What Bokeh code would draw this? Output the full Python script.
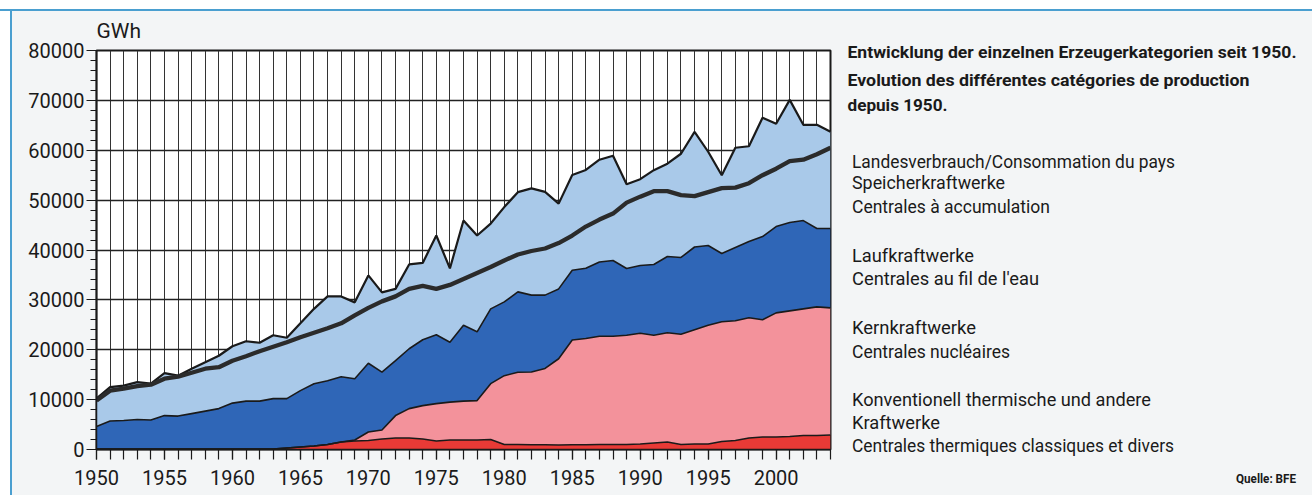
import html
import numpy as np
from bokeh.plotting import figure
from bokeh.layouts import row
from bokeh.models import ColumnDataSource, FixedTicker, Range1d, Div
from bokeh.embed import file_html
from bokeh.resources import INLINE

years = list(range(1950, 2005))

# GWh per producer category
thermal = [100] * 14 + [
    300, 500, 700, 1000, 1500, 1700, 1800, 2100, 2300, 2300,
    2100, 1700, 1900, 1900, 1900, 2000, 1000, 1000, 950, 950,
    900, 950, 950, 1000, 1000, 1000, 1100, 1300, 1500, 1000,
    1100, 1100, 1600, 1800, 2300, 2500, 2500, 2600, 2800, 2800, 2900]
nuclear = [0] * 19 + [
    200, 1700, 1800, 4500, 5900, 6700, 7500, 7600, 7800, 7900,
    11200, 13800, 14500, 14600, 15300, 17300, 21000, 21300, 21700, 21700,
    21900, 22200, 21600, 21900, 22100, 22900, 23800, 24000, 24000, 24100,
    23500, 24900, 25200, 25400, 25800, 25500]
river = [
    4500, 5600, 5700, 5900, 5800, 6700, 6600, 7100, 7600, 8100,
    9200, 9600, 9600, 10100, 9900, 11300, 12500, 12800, 13100, 12300,
    13800, 11600, 11000, 12000, 13200, 13800, 12000, 15200, 13800, 15000,
    14800, 16100, 15400, 14700, 14000, 14000, 14100, 14900, 15200, 13400,
    13600, 14200, 15300, 15400, 16600, 16000, 13700, 14700, 15300, 16700,
    17300, 17700, 17700, 15700, 15900]
storage = [
    5600, 6800, 7000, 7500, 7300, 8500, 8100, 9000, 9800, 10600,
    11400, 12000, 11700, 12700, 12200, 13500, 15000, 16900, 16100, 15300,
    17600, 16000, 14400, 16900, 15400, 19900, 14800, 21000, 19300, 17100,
    19000, 20000, 21400, 20700, 17100, 19100, 19700, 20500, 21000, 16900,
    17300, 18900, 18600, 20800, 23100, 18800, 15700, 20000, 19100, 23800,
    20600, 24600, 19200, 20800, 19400]
consumption = [
    9800, 11800, 12200, 12700, 13000, 14200, 14600, 15400, 16200, 16500,
    17800, 18700, 19700, 20600, 21500, 22500, 23400, 24300, 25300, 26900,
    28400, 29700, 30700, 32200, 32800, 32200, 33000, 34200, 35400, 36600,
    37900, 39100, 39800, 40300, 41400, 42900, 44700, 46100, 47300, 49500,
    50700, 51800, 51800, 51000, 50800, 51600, 52400, 52500, 53400, 55000,
    56300, 57800, 58100, 59200, 60500]

title_lines = ["Entwicklung der einzelnen Erzeugerkategorien seit 1950.",
               "Evolution des différentes catégories de production",
               "depuis 1950."]
legend_lines = ["Landesverbrauch/Consommation du pays", "Speicherkraftwerke",
                "Centrales à accumulation", "Laufkraftwerke",
                "Centrales au fil de l'eau", "Kernkraftwerke",
                "Centrales nucléaires", "Konventionell thermische und andere",
                "Kraftwerke", "Centrales thermiques classiques et divers"]
source_text = "Quelle: BFE"
unit_text = "GWh"

t = np.array(thermal, dtype=float)
n = np.array(nuclear, dtype=float)
r = np.array(river, dtype=float)
s = np.array(storage, dtype=float)
c1 = t
c2 = c1 + n
c3 = c2 + r
c4 = c3 + s

src = ColumnDataSource(dict(x=years, z=np.zeros(len(years)), c1=c1, c2=c2,
                            c3=c3, c4=c4, cons=consumption))

font = "Roboto"
ink = "#1a1a1a"
TOTAL_W, TOTAL_H = 1312, 495
FRAME_L, FRAME_T, FRAME_W, FRAME_H = 96, 50, 734, 399
P_W = FRAME_L + FRAME_W + 2

p = figure(frame_width=FRAME_W, frame_height=FRAME_H,
           x_range=Range1d(1950, 2004), y_range=Range1d(0, 80000),
           output_backend="svg", toolbar_location=None,
           min_border_left=FRAME_L, min_border_right=2,
           min_border_top=FRAME_T, min_border_bottom=TOTAL_H - FRAME_T - FRAME_H,
           title=unit_text)

p.background_fill_color = "white"
p.border_fill_alpha = 0
p.outline_line_color = ink
p.outline_line_width = 2
p.title.text_font = font
p.title.text_font_size = "21px"
p.title.text_font_style = "normal"
p.title.text_color = ink
p.title.align = "left"
p.title.standoff = 16

col_storage = "#a9c9e9"
col_river = "#2f66b7"
col_nuclear = "#f3929b"
col_thermal = "#e83a36"

p.varea(x="x", y1="z", y2="c1", source=src, fill_color=col_thermal)
p.varea(x="x", y1="c1", y2="c2", source=src, fill_color=col_nuclear)
p.varea(x="x", y1="c2", y2="c3", source=src, fill_color=col_river)
p.varea(x="x", y1="c3", y2="c4", source=src, fill_color=col_storage)
for col in ["c1", "c2", "c3"]:
    p.line(x="x", y=col, source=src, line_color=ink, line_width=1.6)
p.line(x="x", y="c4", source=src, line_color=ink, line_width=2.2)
p.line(x="x", y="cons", source=src, line_color="#2b2b2b", line_width=4.3,
       line_join="round")

p.xaxis.ticker = FixedTicker(ticks=[y for y in years if y % 5 == 0], minor_ticks=years)
p.yaxis.ticker = FixedTicker(ticks=list(range(0, 80001, 10000)),
                             minor_ticks=list(range(0, 80001, 2000)))
for ax in (p.xaxis[0], p.yaxis[0]):
    ax.axis_line_color = ink
    ax.axis_line_width = 1.5
    ax.major_tick_line_color = ink
    ax.minor_tick_line_color = ink
    ax.major_tick_line_width = 1.2
    ax.minor_tick_line_width = 1.2
    ax.major_tick_in = 0
    ax.minor_tick_in = 0
    ax.major_label_text_font = font
    ax.major_label_text_font_size = "20px"
    ax.major_label_text_color = ink
p.xaxis.major_tick_out = 10
p.xaxis.minor_tick_out = 10
p.xaxis.major_label_standoff = 10
p.yaxis.major_tick_out = 10
p.yaxis.minor_tick_out = 6
p.yaxis.major_label_standoff = 2

p.xgrid.ticker = FixedTicker(ticks=years)
p.xgrid.grid_line_color = "#333333"
p.xgrid.grid_line_width = 1
p.ygrid.grid_line_color = "#222222"
p.ygrid.grid_line_width = 1.5

# right-hand text panel as inline SVG text
W2, H2 = TOTAL_W - P_W, TOTAL_H
X0 = P_W

def svg_text(x, y, text, size, width, weight="normal"):
    return ('<text x="%s" y="%s" style="font-family:\'%s\';font-size:%s;font-weight:%s" '
            'fill="%s" textLength="%s" lengthAdjust="spacingAndGlyphs">%s</text>'
            % (x - X0, y, font, size, weight, ink, width, html.escape(text)))

title_pos = [(57.5, 449), (86, 402), (111, 100)]
legend_pos = [(168, 323), (189, 153), (213, 198), (262, 122), (285, 187),
              (334, 124), (358, 158), (406, 299), (429, 88), (452, 322)]
parts = []
for txt, (y, w) in zip(title_lines, title_pos):
    parts.append(svg_text(847.5, y, txt, "17px", w, "bold"))
for txt, (y, w) in zip(legend_lines, legend_pos):
    parts.append(svg_text(852, y, txt, "18.5px", w))
parts.append(svg_text(1236, 483, source_text, "13px", 60, "bold"))
svg = ('<svg xmlns="http://www.w3.org/2000/svg" width="%d" height="%d" '
       'style="display:block">%s</svg>' % (W2, H2, "".join(parts)))
q = Div(text=svg, width=W2, height=H2, margin=0)

bg = ("linear-gradient(to bottom, #ffffff 0px, #ffffff 9px, #4a9fd0 9px, #4a9fd0 11px, "
      "rgba(0,0,0,0) 11px), "
      "linear-gradient(to right, #ffffff 0px, #ffffff 10px, #4a9fd0 10px, #4a9fd0 12px, "
      "#f3f5f6 12px)")
layout = row(p, q, styles={"background": bg})

open("out.html", "w").write(file_html(layout, INLINE))
